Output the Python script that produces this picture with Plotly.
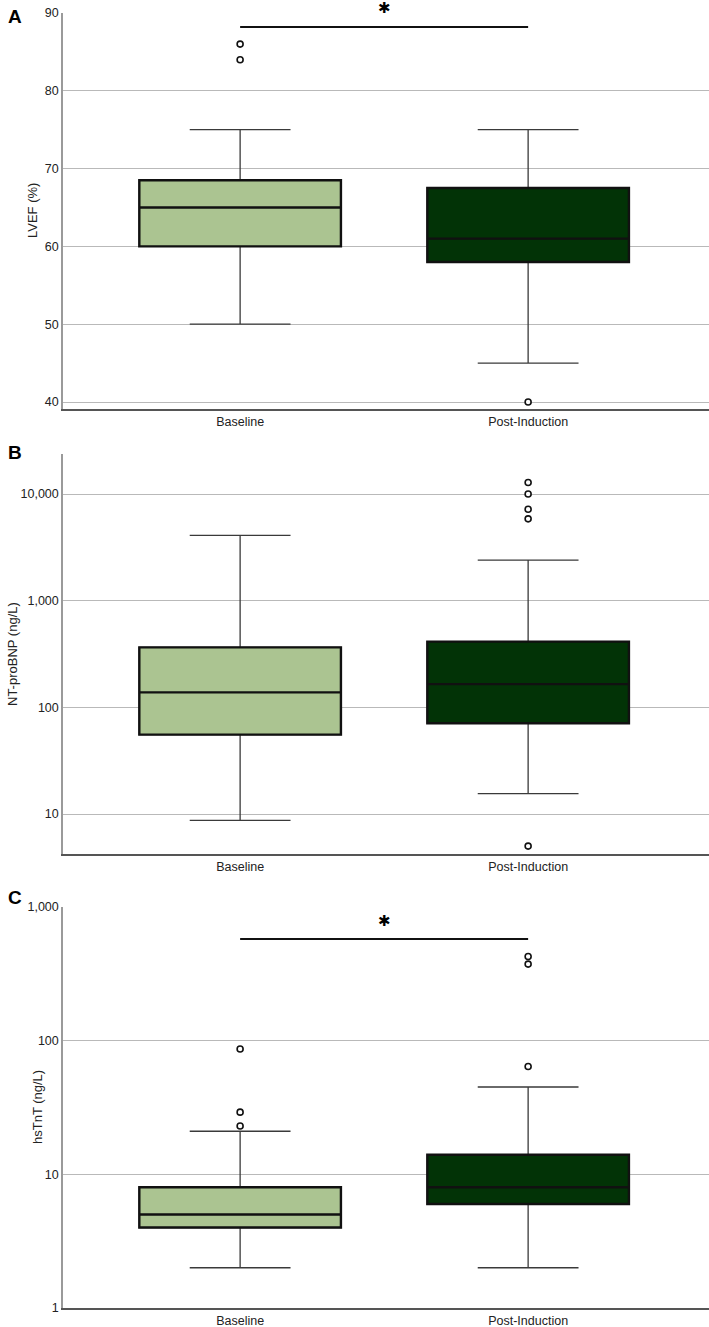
import plotly.graph_objects as go
import math

groups = ["Baseline", "Post-Induction"]
positions = [0, 1]
fill_colors = ["#abc491", "#023306"]

# Panel A: LVEF (%)
lvef_q1 = [60, 58]
lvef_median = [65, 61]
lvef_q3 = [68.5, 67.5]
lvef_lower = [50, 45]
lvef_upper = [75, 75]
lvef_outliers = [[84, 86], [40]]
lvef_sig_y = 88.2

# Panel B: NT-proBNP (ng/L)
bnp_q1 = [55.5, 71]
bnp_median = [138, 165]
bnp_q3 = [365, 413]
bnp_lower = [8.7, 15.5]
bnp_upper = [4100, 2400]
bnp_outliers = [[], [12800, 10000, 7200, 5850, 5.0]]

# Panel C: hsTnT (ng/L)
tnt_q1 = [4, 6]
tnt_median = [5, 8]
tnt_q3 = [8, 14]
tnt_lower = [2, 2]
tnt_upper = [21, 45]
tnt_outliers = [[86.6, 29.2, 23.0], [426, 374, 64]]
tnt_sig_y = 575
tnt_star_y = 785

bnp_ticks = [10, 100, 1000, 10000]
bnp_ticktext = ["10", "100", "1,000", "10,000"]
tnt_ticks = [1, 10, 100, 1000]
tnt_ticktext = ["1", "10", "100", "1,000"]

FONT = "Liberation Sans, Arial, sans-serif"
W, H = 709, 1327
ML, MR, MT, MB = 63, 0, 13, 19
PH = H - MT - MB
PW = W - ML - MR


def py(p):
    return (H - MB - p) / PH


def px(p):
    return (p - ML) / PW


fig = go.Figure()

panels = [
    ("x", "y", lvef_q1, lvef_median, lvef_q3, lvef_lower, lvef_upper, lvef_outliers),
    ("x2", "y2", bnp_q1, bnp_median, bnp_q3, bnp_lower, bnp_upper, bnp_outliers),
    ("x3", "y3", tnt_q1, tnt_median, tnt_q3, tnt_lower, tnt_upper, tnt_outliers),
]

for xa, ya, q1, med, q3, lo, hi, outs in panels:
    for i in range(2):
        # whiskers (thin)
        fig.add_trace(go.Box(
            x=[positions[i]], q1=[q1[i]], median=[med[i]], q3=[q3[i]],
            lowerfence=[lo[i]], upperfence=[hi[i]],
            width=0.70, whiskerwidth=0.5, boxpoints=False,
            fillcolor=fill_colors[i], line=dict(color="#3a3a3a", width=1.3),
            xaxis=xa, yaxis=ya, showlegend=False, hoverinfo="skip"))
        # box body (thick)
        fig.add_trace(go.Box(
            x=[positions[i]], q1=[q1[i]], median=[med[i]], q3=[q3[i]],
            lowerfence=[q1[i]], upperfence=[q3[i]],
            width=0.70, whiskerwidth=0, boxpoints=False,
            fillcolor=fill_colors[i], line=dict(color="#111111", width=2.4),
            xaxis=xa, yaxis=ya, showlegend=False, hoverinfo="skip"))
        if outs[i]:
            fig.add_trace(go.Scatter(
                x=[positions[i]] * len(outs[i]), y=outs[i], mode="markers",
                marker=dict(symbol="circle", size=6, color="white",
                            line=dict(color="#111111", width=1.6)),
                xaxis=xa, yaxis=ya, showlegend=False, cliponaxis=False,
                hoverinfo="skip"))

# significance lines
fig.add_trace(go.Scatter(x=positions, y=[lvef_sig_y, lvef_sig_y], mode="lines",
                         line=dict(color="#111111", width=2), xaxis="x", yaxis="y",
                         showlegend=False, hoverinfo="skip"))
fig.add_trace(go.Scatter(x=positions, y=[tnt_sig_y, tnt_sig_y], mode="lines",
                         line=dict(color="#111111", width=2), xaxis="x3", yaxis="y3",
                         showlegend=False, hoverinfo="skip"))

annotations = [
    dict(text="✱", x=0.5, y=py(8), xref="x", yref="paper", showarrow=False,
         xanchor="center", yanchor="middle",
         font=dict(size=15, color="#000", family="DejaVu Sans")),
    dict(text="✱", x=0.5, y=math.log10(tnt_star_y), xref="x3", yref="y3", showarrow=False,
         font=dict(size=15, color="#000", family="DejaVu Sans")),
]

# panel letters
for letter, lx, ly in [("A", 15, 16), ("B", 15, 452), ("C", 15, 897)]:
    annotations.append(dict(text="<b>%s</b>" % letter, x=px(lx), y=py(ly), xref="paper",
                            yref="paper", showarrow=False, xanchor="center", yanchor="middle",
                            font=dict(size=19, color="#000", family=FONT)))

# axis titles
for title, tx, tyc in [("LVEF (%)", 33, 211), ("NT-proBNP (ng/L)", 12, 654),
                       ("hsTnT (ng/L)", 37, 1107)]:
    annotations.append(dict(text=title, x=px(tx), y=py(tyc), xref="paper", yref="paper",
                            showarrow=False, textangle=-90, xanchor="center",
                            yanchor="middle", font=dict(size=13, color="#222", family=FONT)))

xcommon = dict(range=[-0.615, 1.628], tickvals=positions, ticktext=groups,
               showgrid=False, zeroline=False, showline=True, linecolor="#555555",
               linewidth=1.5, ticks="", tickfont=dict(size=12.5, color="#222", family=FONT),
               automargin=False, fixedrange=True)
ycommon = dict(showgrid=True, gridcolor="#b9b9b9", gridwidth=1.3, zeroline=False,
               showline=True, linecolor="#9a9a9a", linewidth=1.5, ticks="",
               tickfont=dict(size=12.5, color="#222", family=FONT), automargin=False)

fig.update_layout(
    width=W, height=H,
    margin=dict(l=ML, r=MR, t=MT, b=MB),
    paper_bgcolor="white", plot_bgcolor="white",
    boxmode="overlay",
    font=dict(family=FONT, size=12, color="#222"),
    xaxis=dict(xcommon, anchor="y"),
    xaxis2=dict(xcommon, anchor="y2"),
    xaxis3=dict(xcommon, anchor="y3"),
    yaxis=dict(ycommon, domain=[py(409), 1.0], range=[39.1, 90],
               tickvals=[40, 50, 60, 70, 80, 90], anchor="x"),
    yaxis2=dict(ycommon, domain=[py(854), py(454)], type="log", range=[0.625, 4.375],
                tickvals=bnp_ticks, ticktext=bnp_ticktext, anchor="x2"),
    yaxis3=dict(ycommon, domain=[0.0, py(907)], type="log", range=[0, 3],
                tickvals=tnt_ticks, ticktext=tnt_ticktext, anchor="x3"),
    annotations=annotations,
)

fig.write_html("out.html")
